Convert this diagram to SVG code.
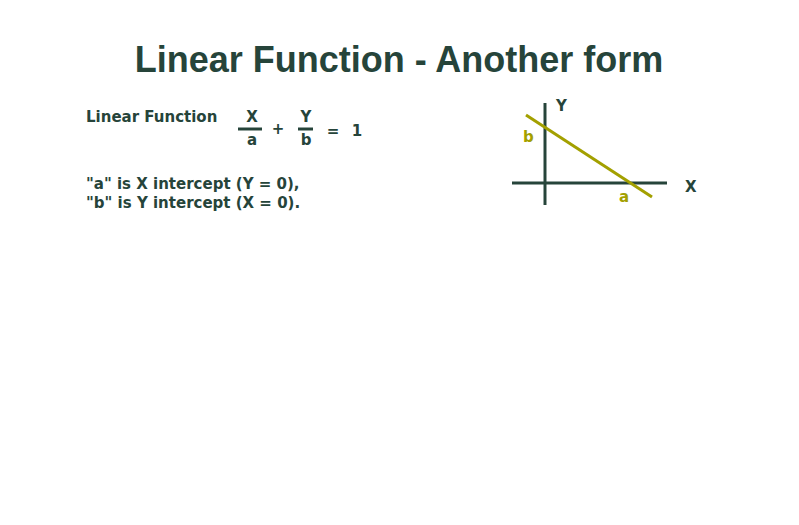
<svg xmlns="http://www.w3.org/2000/svg" width="799" height="525" viewBox="0 0 799 525">
<style>
text{font-family:"DejaVu Sans","Liberation Sans",Arial,sans-serif;font-weight:bold;fill:#26443a}
.h{font-family:"Liberation Sans",Arial,sans-serif}
.t{font-size:15px}
.o{fill:#a3a000}
.ax{stroke:#26443a;stroke-width:3;fill:none}
.ln{stroke:#a3a000;stroke-width:3;fill:none}
</style>
<rect width="799" height="525" fill="#fff"/>
<text class="h" x="399" y="72" font-size="36" text-anchor="middle">Linear Function - Another form</text>
<g id="formula">
<text class="t" x="86" y="122">Linear Function</text>
<text class="t" x="252" y="122" text-anchor="middle">X</text>
<line x1="238" y1="129" x2="262" y2="129" class="ax"/>
<text class="t" x="252" y="145" text-anchor="middle">a</text>
<text class="t" x="278" y="134" text-anchor="middle">+</text>
<text class="t" x="306" y="122" text-anchor="middle">Y</text>
<line x1="298" y1="129" x2="313" y2="129" class="ax"/>
<text class="t" x="306" y="145" text-anchor="middle">b</text>
<text class="t" x="333" y="136" text-anchor="middle">=</text>
<text class="t" x="357" y="136" text-anchor="middle">1</text>
</g>
<g id="notes">
<text class="t" x="86" y="189">"a" is X intercept (Y = 0),</text>
<text class="t" x="86" y="208">"b" is Y intercept (X = 0).</text>
</g>
<g id="graph">
<line x1="545" y1="103" x2="545" y2="205" class="ax"/>
<line x1="512" y1="183" x2="667" y2="183" class="ax"/>
<line x1="526" y1="115" x2="652" y2="197" class="ln"/>
<text class="t" x="556" y="111">Y</text>
<text class="t" x="685" y="192">X</text>
<text class="t o" x="523" y="142">b</text>
<text class="t o" x="619" y="202">a</text>
</g>
</svg>
